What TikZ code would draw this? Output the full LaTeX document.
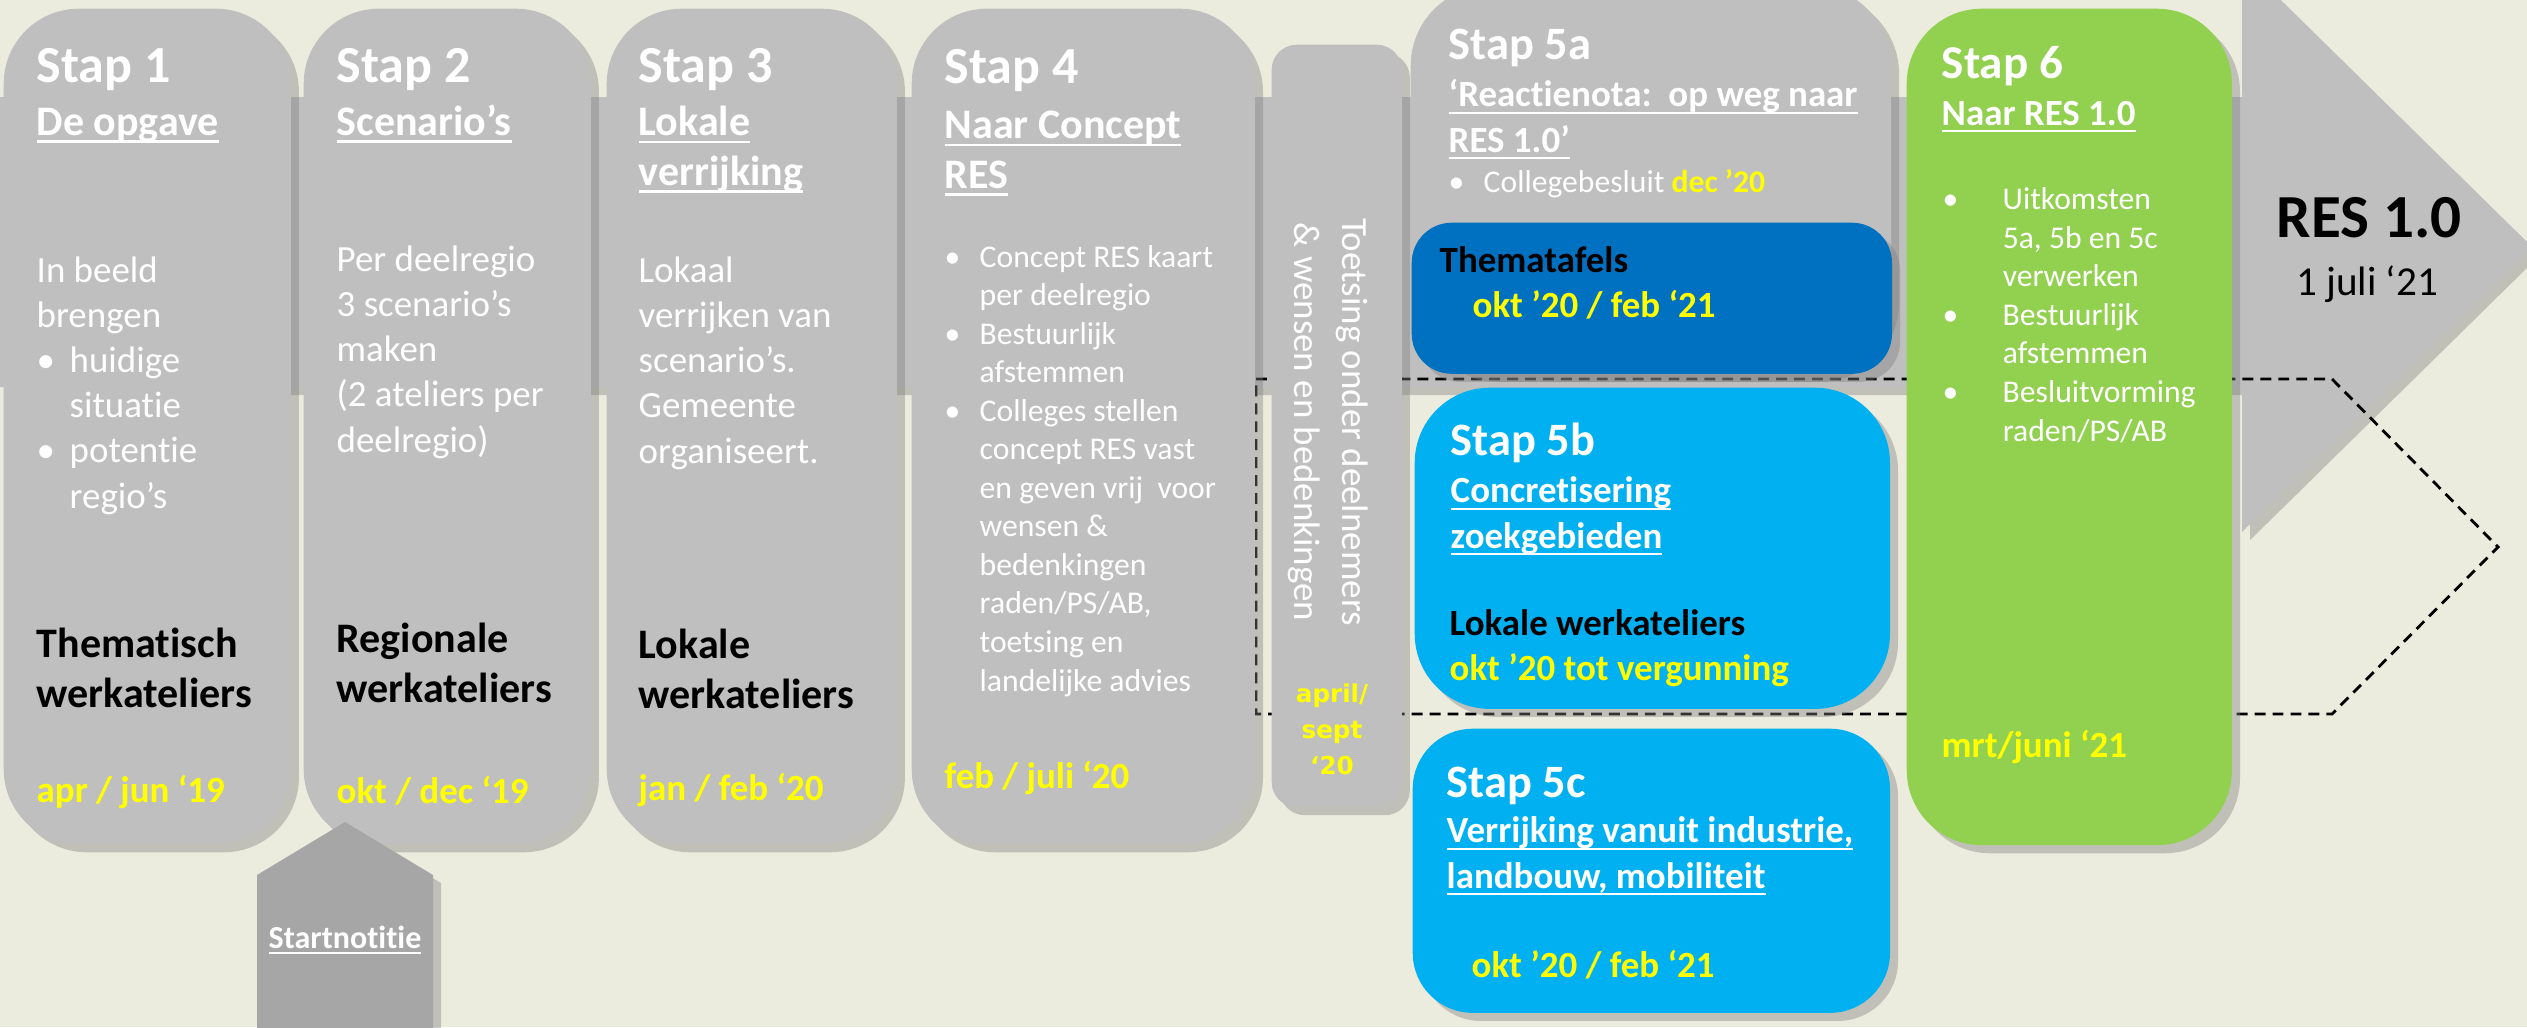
\documentclass[tikz,border=0pt]{standalone}
\usepackage{fontspec}
\setmainfont{Carlito}[Ligatures=NoCommon]
\newfontfamily\verdana{DejaVu Sans}
\usetikzlibrary{shadows}
\definecolor{achter}{HTML}{ECECDE}
\definecolor{grijs}{HTML}{BFBFBF}
\definecolor{startgrijs}{HTML}{A6A6A6}
\definecolor{donkerblauw}{HTML}{0070C0}
\definecolor{lichtblauw}{HTML}{00B0F0}
\definecolor{groen}{HTML}{92D050}
\definecolor{geel}{HTML}{FFFF00}
\newcommand{\Onder}[1]{\setbox0\hbox{#1}\rlap{\rule[-0.2em]{\wd0}{0.07em}}\box0}
\newcommand{\Punt}[2]{\makebox[#1][l]{\textbullet}#2}
\newcommand{\Inspr}[1]{\hspace*{#1}}

\begin{document}
\begin{tikzpicture}[x=0.01cm, y=-0.01cm]
	\tikzstyle{schaduw} = [drop shadow={opacity=0.4, shadow xshift=2.3pt, shadow yshift=-2.3pt}]
	\tikzstyle{stapbox} = [fill=grijs, rounded corners=0.75cm, anchor=north west, inner sep=0pt, schaduw]
	\tikzstyle{stapboxB} = [stapbox, fill=donkerblauw, rounded corners=0.4cm]
	\tikzstyle{stapboxL} = [stapbox, fill=lichtblauw]
	\tikzstyle{stapboxG} = [stapbox, fill=groen]
	% multi-line nodes: base = baseline of the last line
	\tikzstyle{kop} = [inner sep=0pt, anchor=base west, align=left, text=white, font=\bfseries\fontsize{14.8pt}{17pt}\selectfont]
	\tikzstyle{kopK} = [kop, font=\bfseries\fontsize{13.2pt}{15pt}\selectfont]
	\tikzstyle{sub} = [kop, font=\bfseries\fontsize{11.95pt}{14.2pt}\selectfont]
	\tikzstyle{subK} = [kop, font=\bfseries\fontsize{10.5pt}{12.8pt}\selectfont]
	\tikzstyle{tekst} = [kop, font=\fontsize{10.5pt}{12.8pt}\selectfont]
	\tikzstyle{tekstK} = [kop, font=\fontsize{9pt}{10.95pt}\selectfont]
	\tikzstyle{zwart} = [sub, text=black]
	\tikzstyle{zwartK} = [subK, text=black]
	\tikzstyle{datum} = [subK, text=geel]

	\useasboundingbox (0,0) rectangle (2527,1027);
	\fill[achter] (0,0) rectangle (2527,1027);

	% grote pijl naar RES 1.0
	\path[fill=grijs, schaduw] (0,97) -- (2242,97) -- (2242,-38) -- (2532,247) -- (2242,532) -- (2242,387) -- (0,387) -- cycle;
	\draw[line width=0.8pt, dash pattern=on 3.1pt off 2pt] (1256,379) -- (2332,379) -- (2498,547) -- (2332,714) -- (1256,714) -- cycle;

	\node(StapEen)[stapbox, minimum width=2.87cm, minimum height=8.35cm] at (3,8) {};
	\node(StapTwee)[stapbox, minimum width=2.87cm, minimum height=8.35cm] at (303,8) {};
	\node(StapDrie)[stapbox, minimum width=2.90cm, minimum height=8.35cm] at (606,8) {};
	\node(StapVier)[stapbox, minimum width=3.43cm, minimum height=8.35cm] at (911,8) {};
	\node(Toetsing)[stapbox, rounded corners=0.25cm, minimum width=1.30cm, minimum height=7.62cm] at (1271,44) {};
	\node(StapVijfA)[stapbox, rounded corners=0.8cm, minimum width=4.80cm, minimum height=3.88cm] at (1410,-15) {};
	\node(Thematafels)[stapboxB, minimum width=4.80cm, minimum height=1.51cm] at (1411,222) {};
	\node(StapVijfB)[stapboxL, minimum width=4.75cm, minimum height=3.21cm] at (1414,387) {};
	\node(StapVijfC)[stapboxL, rounded corners=0.6cm, minimum width=4.77cm, minimum height=2.84cm] at (1412,728) {};
	\node(StapZes)[stapboxG, minimum width=3.25cm, minimum height=8.36cm] at (1906,8) {};
	\path[fill=startgrijs, schaduw] (257,1040) -- (257,875) -- (345,822) -- (433,875) -- (433,1040) -- cycle;

	\node(EenKop)[kop] at (36,82) {Stap 1};
	\node(EenSub)[sub] at (36,135) {\Onder{De opgave}};
	\node(EenTekst)[tekst] at (36,508) {In beeld\\brengen\\\Punt{0.33cm}{huidige}\\\Inspr{0.33cm}situatie\\\Punt{0.33cm}{potentie}\\\Inspr{0.33cm}regio’s};
	\node(EenAtelier)[zwart] at (36,707) {Thematisch\\werkateliers};
	\node(EenDatum)[datum] at (36,802) {apr / jun ‘19};

	\node(TweeKop)[kop] at (336,82) {Stap 2};
	\node(TweeSub)[sub] at (336,135) {\Onder{Scenario’s}};
	\node(TweeTekst)[tekst] at (336,452) {Per deelregio\\3 scenario’s\\maken\\(2 ateliers per\\deelregio)};
	\node(TweeAtelier)[zwart] at (336,702) {Regionale\\werkateliers};
	\node(TweeDatum)[datum] at (336,803) {okt / dec ‘19};
	\node(Startnotitie)[kop, anchor=base, font=\bfseries\fontsize{9.1pt}{11pt}\selectfont] at (345,948) {\Onder{Startnotitie}};

	\node(DrieKop)[kop] at (638,82) {Stap 3};
	\node(DrieSub)[sub] at (638,185) {\Onder{Lokale}\\\Onder{verrijking}};
	\node(DrieTekst)[tekst] at (638,463) {Lokaal\\verrijken van\\scenario’s.\\Gemeente\\organiseert.};
	\node(DrieAtelier)[zwart] at (638,708) {Lokale\\werkateliers};
	\node(DrieDatum)[datum] at (638,800) {jan / feb ‘20};

	\node(VierKop)[kop] at (944,83) {Stap 4};
	\node(VierSub)[sub] at (944,188) {\Onder{Naar Concept}\\\Onder{RES}};
	\node(VierTekst)[tekstK] at (944,691) {\Punt{0.35cm}{Concept RES kaart}\\\Inspr{0.35cm}per deelregio\\\Punt{0.35cm}{Bestuurlijk}\\\Inspr{0.35cm}afstemmen\\\Punt{0.35cm}{Colleges stellen}\\\Inspr{0.35cm}concept RES vast\\\Inspr{0.35cm}en geven vrij\ \ voor\\\Inspr{0.35cm}wensen \&\\\Inspr{0.35cm}bedenkingen\\\Inspr{0.35cm}raden/PS/AB,\\\Inspr{0.35cm}toetsing en\\\Inspr{0.35cm}landelijke advies};
	\node(VierDatum)[datum] at (944,788) {feb / juli ‘20};

	\node(ToetsTekst)[tekst, anchor=center, align=center, rotate=-90, font=\fontsize{10.5pt}{13.7pt}\selectfont] at (1328,422) {Toetsing onder deelnemers\\\& wensen en bedenkingen};
	\node(ToetsDatum)[datum, anchor=center, align=center, font=\verdana\bfseries\fontsize{7pt}{10.2pt}\selectfont] at (1332,729) {april/\\sept\\‘20};

	\node(VijfAKop)[kopK] at (1448,60) {Stap 5a};
	\node(VijfASub)[subK] at (1448,152) {\Onder{‘Reactienota:\ \ op weg naar}\\\Onder{RES 1.0’}};
	\node(VijfATekst)[tekstK] at (1448,192) {\Punt{0.35cm}{Collegebesluit \textbf{\textcolor{geel}{dec ’20}}}};
	\node(ThemaKop)[zwartK] at (1439,272) {Thematafels};
	\node(ThemaDatum)[datum] at (1472,317) {okt ’20 / feb ‘21};

	\node(VijfBKop)[kopK] at (1450,455) {Stap 5b};
	\node(VijfBSub)[subK] at (1450,548) {\Onder{Concretisering}\\\Onder{zoekgebieden}};
	\node(VijfBAtelier)[zwartK] at (1449,635) {Lokale werkateliers};
	\node(VijfBDatum)[datum] at (1449,680) {okt ’20 tot vergunning};

	\node(VijfCKop)[kopK] at (1446,797) {Stap 5c};
	\node(VijfCSub)[subK] at (1446,888) {\Onder{Verrijking vanuit industrie,}\\\Onder{landbouw, mobiliteit}};
	\node(VijfCDatum)[datum] at (1471,977) {okt ’20 / feb ‘21};

	\node(ZesKop)[kop, font=\bfseries\fontsize{13.4pt}{15pt}\selectfont] at (1941,78) {Stap 6};
	\node(ZesSub)[subK] at (1941,125) {\Onder{Naar RES 1.0}};
	\node(ZesTekst)[tekstK] at (1942,441) {\Punt{0.6cm}{Uitkomsten}\\\Inspr{0.6cm}5a, 5b en 5c\\\Inspr{0.6cm}verwerken\\\Punt{0.6cm}{Bestuurlijk}\\\Inspr{0.6cm}afstemmen\\\Punt{0.6cm}{Besluitvorming}\\\Inspr{0.6cm}raden/PS/AB};
	\node(ZesDatum)[datum] at (1941,757) {mrt/juni ‘21};

	\node(ResKop)[kop, anchor=base, text=black, font=\bfseries\fontsize{17.4pt}{20pt}\selectfont] at (2369,237) {RES 1.0};
	\node(ResDatum)[tekst, anchor=base, text=black, font=\fontsize{11.7pt}{14pt}\selectfont] at (2367,295) {1 juli ‘21};
\end{tikzpicture}
\end{document}
